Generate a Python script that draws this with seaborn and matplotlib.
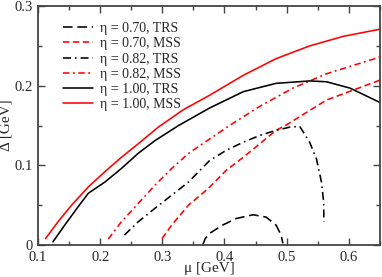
import matplotlib
matplotlib.use('Agg')
import matplotlib.pyplot as plt
import seaborn as sns
from matplotlib.ticker import MultipleLocator

# values
mu_070_trs = [0.365, 0.369, 0.376, 0.397, 0.419, 0.446, 0.467, 0.483, 0.491, 0.494]
gap_070_trs = [0.0, 0.008, 0.0146, 0.025, 0.0333, 0.038, 0.035, 0.025, 0.0125, 0.002]

mu_070_mss = [0.2995, 0.315, 0.342, 0.374, 0.403, 0.430, 0.4565, 0.483, 0.500, 0.564, 0.650]
gap_070_mss = [0.008, 0.025, 0.050, 0.071, 0.094, 0.110, 0.127, 0.144, 0.151, 0.182, 0.207]

mu_082_trs = [0.239, 0.261, 0.288, 0.315, 0.342, 0.376, 0.403, 0.430, 0.4565,
              0.483, 0.505, 0.521, 0.537, 0.548, 0.556, 0.5595, 0.5600]
gap_082_trs = [0.0125, 0.029, 0.046, 0.0625, 0.079, 0.106, 0.119, 0.129, 0.1375,
               0.144, 0.148, 0.149, 0.129, 0.108, 0.079, 0.054, 0.029]

mu_082_mss = [0.213, 0.234, 0.261, 0.288, 0.315, 0.342, 0.374, 0.408, 0.4565, 0.510, 0.564, 0.650]
gap_082_mss = [0.0075, 0.029, 0.052, 0.075, 0.096, 0.115, 0.132, 0.150, 0.174, 0.197, 0.215, 0.236]

mu_100_trs = [0.124, 0.143, 0.1645, 0.181, 0.2075, 0.234, 0.261, 0.288, 0.326,
              0.376, 0.430, 0.483, 0.537, 0.564, 0.602, 0.650]
gap_100_trs = [0.004, 0.025, 0.048, 0.065, 0.079, 0.096, 0.115, 0.131, 0.150,
               0.172, 0.1925, 0.203, 0.206, 0.205, 0.197, 0.179]

mu_100_mss = [0.112, 0.132, 0.154, 0.181, 0.2075, 0.234, 0.261, 0.2935, 0.334,
              0.376, 0.430, 0.483, 0.537, 0.591, 0.650]
gap_100_mss = [0.008, 0.029, 0.050, 0.073, 0.092, 0.110, 0.127, 0.148, 0.170,
               0.188, 0.213, 0.234, 0.250, 0.262, 0.271]

labels = ["η = 0.70, TRS", "η = 0.70, MSS", "η = 0.82, TRS",
          "η = 0.82, MSS", "η = 1.00, TRS", "η = 1.00, MSS"]

x_ticks = [0.1, 0.2, 0.3, 0.4, 0.5, 0.6]
x_ticklabels = ["0.1", "0.2", "0.3", "0.4", "0.5", "0.6"]
y_ticks = [0.0, 0.1, 0.2, 0.3]
y_ticklabels = ["0", "0.1", "0.2", "0.3"]

sns.set_style("ticks")
plt.rcParams['font.family'] = ['Liberation Serif', 'DejaVu Serif']

fig = plt.figure(figsize=(3.82, 2.77), dpi=100)
ax = fig.add_axes([0.0995, 0.1155, 0.895, 0.8625])

series = [
    (mu_070_trs, gap_070_trs, 'black', (6, 3)),
    (mu_070_mss, gap_070_mss, 'red', (4, 2.2)),
    (mu_082_trs, gap_082_trs, 'black', (5, 2.5, 1, 2.5)),
    (mu_082_mss, gap_082_mss, 'red', (4, 2.2, 1.2, 2.2)),
    (mu_100_trs, gap_100_trs, 'black', None),
    (mu_100_mss, gap_100_mss, 'red', None),
]

for (x, y, c, dash), lab in zip(series, labels):
    sns.lineplot(x=x, y=y, ax=ax, color=c, lw=1.15, sort=False, label=lab)
    if dash is not None:
        ax.lines[-1].set_dashes(dash)

ax.set_xlim(0.1, 0.65)
ax.set_ylim(0.0, 0.3)
ax.set_xticks(x_ticks)
ax.set_xticklabels(x_ticklabels)
ax.set_yticks(y_ticks)
ax.set_yticklabels(y_ticklabels)
ax.xaxis.set_minor_locator(MultipleLocator(0.05))
ax.yaxis.set_minor_locator(MultipleLocator(0.05))
ax.tick_params(which='both', direction='in', top=True, right=True,
               labelsize=10.5, color='#444444', width=1)
ax.tick_params(which='major', length=5)
ax.tick_params(which='minor', length=3)
ax.tick_params(axis='x', which='major', pad=4)
ax.tick_params(axis='y', which='major', pad=4)
for sp in ax.spines.values():
    sp.set_linewidth(1.3)
    sp.set_color('#444444')

ax.set_xlabel("μ [GeV]", fontsize=11, labelpad=-1)
ax.set_ylabel("Δ [GeV]", fontsize=11, labelpad=1)

ax.legend(loc='upper left', bbox_to_anchor=(0.05, 0.968), frameon=False,
          fontsize=10, handlelength=2.1, handletextpad=0.5, labelspacing=0.16,
          borderaxespad=0.2)

fig.savefig('out.png', dpi=100)
